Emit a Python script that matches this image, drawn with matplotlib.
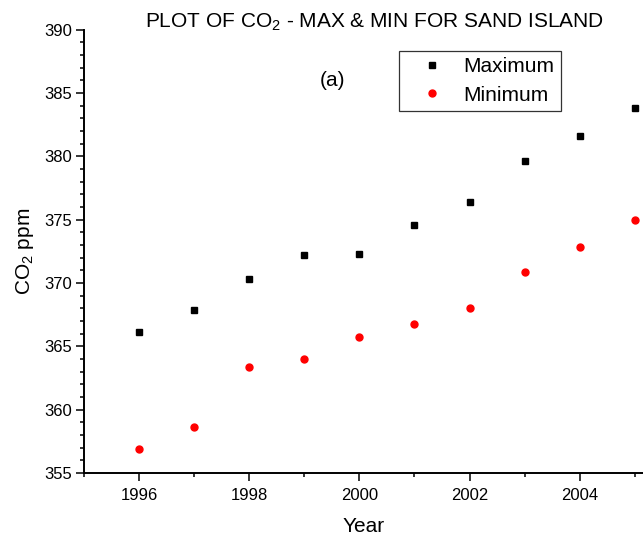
import matplotlib
matplotlib.use("Agg")
import matplotlib.pyplot as plt
from matplotlib.ticker import MultipleLocator

plt.rcParams["font.family"] = ["Liberation Sans", "DejaVu Sans"]
plt.rcParams["mathtext.fontset"] = "custom"
plt.rcParams["mathtext.rm"] = "Liberation Sans"
plt.rcParams["mathtext.it"] = "Liberation Sans:italic"

years = [1996, 1997, 1998, 1999, 2000, 2001, 2002, 2003, 2004, 2005]
co2_max = [366.1, 367.9, 370.3, 372.2, 372.3, 374.6, 376.4, 379.6, 381.6, 383.8]
co2_min = [356.9, 358.6, 363.4, 364.0, 365.7, 366.8, 368.0, 370.9, 372.8, 375.0]

W, H = 643, 540
fig = plt.figure(figsize=(W / 100, H / 100), dpi=100)
ax = fig.add_axes([84 / W, 67 / H, (W - 84) / W, (473 - 29.6) / H])

ax.plot(years, co2_max, ls="none", marker="s", ms=4.5, color="black",
        label="Maximum")
ax.plot(years, co2_min, ls="none", marker="o", ms=5, color="#ff0000",
        mec="#ff0000", label="Minimum")

ax.set_xlim(1995, 2005.15)
ax.set_ylim(355, 390)
ax.xaxis.set_major_locator(MultipleLocator(2))
ax.xaxis.set_minor_locator(MultipleLocator(1))
ax.yaxis.set_major_locator(MultipleLocator(5))
ax.yaxis.set_minor_locator(MultipleLocator(1))
ax.tick_params(which="major", direction="out", length=6, width=1.1,
               labelsize=12, pad=2.5)
ax.tick_params(axis="x", which="major", pad=5)
ax.tick_params(which="minor", direction="out", length=3, width=1.1)
for side in ("top", "right"):
    ax.spines[side].set_visible(False)
for side in ("left", "bottom"):
    ax.spines[side].set_linewidth(1.4)

ax.set_xlabel("Year", fontsize=15, labelpad=10)
ax.set_ylabel("CO$_\\mathrm{2}$ ppm", fontsize=15, labelpad=6)

fig.text(374 / W, 1 - 22 / H,
         "PLOT OF CO$_\\mathrm{2}$ - MAX & MIN FOR SAND ISLAND",
         ha="center", va="center", fontsize=15)
ax.text(1999.52, 386.0, "(a)", ha="center", va="center", fontsize=15)

leg = ax.legend(loc="upper left", bbox_to_anchor=(399 / W, 1 - 51 / H),
                bbox_transform=fig.transFigure, fontsize=15, frameon=True,
                fancybox=False, handlelength=2.6, handletextpad=0.2,
                borderpad=0.3, labelspacing=0.45, borderaxespad=0)
leg.get_frame().set_edgecolor("black")
leg.get_frame().set_linewidth(0.9)

fig.savefig("out.png", dpi=100, facecolor="white")
